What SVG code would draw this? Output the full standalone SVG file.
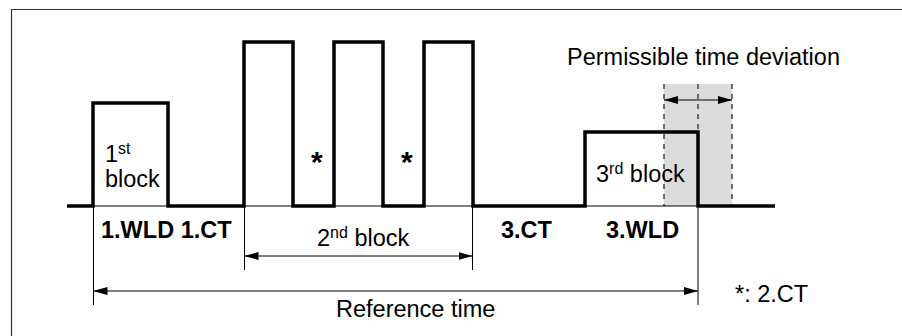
<svg xmlns="http://www.w3.org/2000/svg" width="902" height="336" viewBox="0 0 902 336">
  <style>
    .txt { font-family: "Liberation Sans", Arial, sans-serif; font-size: 23.5px; fill: #000; }
    .bold { font-weight: bold; }
    .sup { font-size: 16px; }
    .star { font-size: 30px; font-weight: bold; }
    .signal { fill: none; stroke: #000; stroke-width: 3.5; stroke-linejoin: miter; }
    .thin { fill: none; stroke: #000; stroke-width: 1; }
    .dash { fill: none; stroke: #444; stroke-width: 1.5; stroke-dasharray: 5 5; }
  </style>
  <defs>
    <marker id="arrow" viewBox="0 0 14 8" refX="14" refY="4" markerWidth="14" markerHeight="8" markerUnits="userSpaceOnUse" orient="auto-start-reverse">
      <path d="M0,0 L14,4 L0,8 Z" fill="#000"/>
    </marker>
  </defs>

  <rect width="902" height="336" fill="#fff"/>

  <!-- outer frame -->
  <path d="M11.5,340 V9.5 H902" fill="none" stroke="#333" stroke-width="1.2"/>

  <!-- tolerance band around the end of the 3rd block -->
  <g id="tolerance">
    <rect x="664" y="84" width="68" height="122" fill="#dcdcdc"/>
    <line class="dash" x1="664" y1="84" x2="664" y2="206"/>
    <line class="dash" x1="698" y1="84" x2="698" y2="132"/>
    <line class="dash" x1="732" y1="84" x2="732" y2="206"/>
    <text class="txt" x="567" y="65">Permissible time deviation</text>
  </g>

  <g id="connectors">
    <!-- baseline under the blocks -->
    <line class="thin" x1="93" y1="206" x2="775" y2="206"/>
    <!-- extension lines -->
    <line class="thin" x1="93.5" y1="206" x2="93.5" y2="305"/>
    <line class="thin" x1="244.5" y1="206" x2="244.5" y2="270"/>
    <line class="thin" x1="472.5" y1="206" x2="472.5" y2="270"/>
    <line class="thin" x1="698" y1="206" x2="698" y2="305" stroke="#555"/>
    <!-- dimension arrows -->
    <line class="thin" x1="664" y1="100" x2="732" y2="100" marker-start="url(#arrow)" marker-end="url(#arrow)"/>
    <line class="thin" x1="244.5" y1="256" x2="472.5" y2="256" marker-start="url(#arrow)" marker-end="url(#arrow)"/>
    <line class="thin" x1="93.5" y1="291" x2="698" y2="291" marker-start="url(#arrow)" marker-end="url(#arrow)"/>
  </g>

  <!-- pulse train -->
  <g id="signal">
    <path class="signal" d="M67,206 H93 V103 H168 V206 H244 V42 H293 V206 H334 V42 H383 V206 H424 V42 H473 V206 H585 V132 H698 V206 H775"/>
  </g>

  <g id="block1">
    <text class="txt" x="105" y="162">1<tspan class="sup" dy="-8">st</tspan></text>
    <text class="txt" x="105" y="187">block</text>
  </g>

  <g id="block2">
    <text class="txt star" x="311" y="172">*</text>
    <text class="txt star" x="401" y="172">*</text>
    <text class="txt" x="317" y="246">2<tspan class="sup" dy="-8">nd</tspan><tspan dy="8"> block</tspan></text>
  </g>

  <g id="block3">
    <text class="txt" x="596" y="182">3<tspan class="sup" dy="-8">rd</tspan><tspan dy="8"> block</tspan></text>
  </g>

  <g id="labels">
    <text class="txt bold" x="101" y="238">1.WLD 1.CT</text>
    <text class="txt bold" x="501" y="238">3.CT</text>
    <text class="txt bold" x="606" y="238">3.WLD</text>
    <text class="txt" x="336" y="317">Reference time</text>
    <text class="txt" x="735" y="302">*: 2.CT</text>
  </g>
</svg>
